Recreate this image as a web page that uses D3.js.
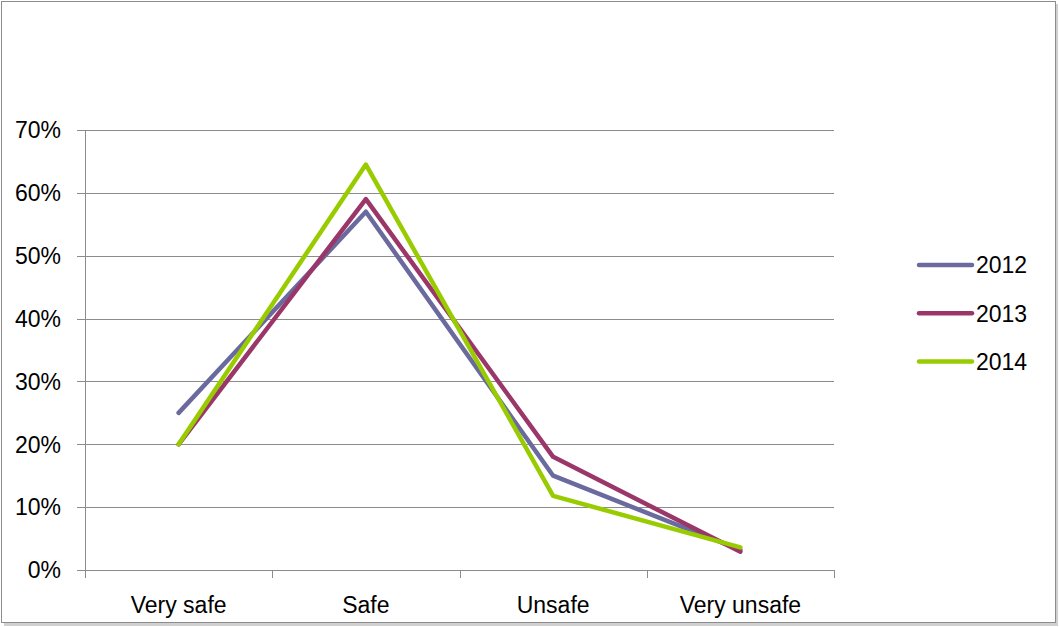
<!DOCTYPE html>
<html><head><meta charset="utf-8">
<script src="https://cdn.jsdelivr.net/npm/d3@7"></script>
<style>body{margin:0;background:#fff}svg{display:block}text{font-family:"Liberation Sans",Arial,sans-serif;fill:#000}</style>
</head><body>
<svg id="c" width="1059" height="627"></svg>
<script>
const categories = ["Very safe", "Safe", "Unsafe", "Very unsafe"];
const seriesNames = ["2012", "2013", "2014"];
const values2012 = [0.25, 0.57, 0.15, 0.032];
const values2013 = [0.20, 0.59, 0.18, 0.029];
const values2014 = [0.20, 0.645, 0.118, 0.036];
const yTicks = [0, 0.1, 0.2, 0.3, 0.4, 0.5, 0.6, 0.7];
const colors = ["#6A6A9E", "#9A3768", "#99CC00"];
const allValues = [values2012, values2013, values2014];

const svg = d3.select("#c");
// outer frame with shadow
svg.append("rect").attr("x",4).attr("y",4).attr("width",1054).attr("height",622).attr("fill","#d0d0d0");
svg.append("rect").attr("x",1.5).attr("y",1.5).attr("width",1054).attr("height",621).attr("fill","#fff").attr("stroke","#8c8c8c").attr("stroke-width",1);

const x = d3.scaleBand().domain(categories).range([85, 834]).padding(0);
const y = d3.scaleLinear().domain([0, 0.7]).range([570, 130]);

// gridlines
svg.append("g").selectAll("line").data(yTicks).join("line")
  .attr("x1", 77).attr("x2", 834)
  .attr("y1", d => Math.round(y(d)) + 0.5).attr("y2", d => Math.round(y(d)) + 0.5)
  .attr("stroke", "#8c8c8c").attr("stroke-width", 1);

// y axis line
svg.append("line").attr("x1",85.5).attr("x2",85.5).attr("y1",130).attr("y2",578).attr("stroke","#8c8c8c");
// x ticks at band boundaries
const bounds = categories.map(c => x(c)).concat([x(categories[categories.length-1]) + x.bandwidth()]);
svg.append("g").selectAll("line").data(bounds.slice(1)).join("line")
  .attr("x1", d => Math.round(d)+0.5).attr("x2", d => Math.round(d)+0.5)
  .attr("y1", 570).attr("y2", 578).attr("stroke", "#8c8c8c");

// y labels
svg.append("g").selectAll("text").data(yTicks).join("text")
  .attr("x", 61).attr("y", d => y(d)).attr("dy", "0.36em")
  .attr("text-anchor", "end").style("font-size", "23px")
  .text(d => d3.format(".0%")(d));

// x labels
svg.append("g").selectAll("text").data(categories).join("text")
  .attr("x", d => x(d) + x.bandwidth()/2).attr("y", 613)
  .attr("text-anchor", "middle").style("font-size", "23px")
  .text(d => d);

// lines
const line = d3.line().x((d,i) => x(categories[i]) + x.bandwidth()/2).y(d => y(d));
allValues.forEach((vals, k) => {
  svg.append("path").datum(vals).attr("d", line)
    .attr("fill", "none").attr("stroke", colors[k]).attr("stroke-width", 4.5)
    .attr("stroke-linecap", "round").attr("stroke-linejoin", "round");
});

// legend
const lg = svg.append("g");
seriesNames.forEach((n, k) => {
  const ly = 265 + k * 48.3;
  lg.append("line").attr("x1", 919).attr("x2", 972).attr("y1", ly).attr("y2", ly)
    .attr("stroke", colors[k]).attr("stroke-width", 4.5).attr("stroke-linecap", "round");
  lg.append("text").attr("x", 976).attr("y", ly).attr("dy", "0.36em")
    .style("font-size", "23px").text(n);
});
</script>
</body></html>
